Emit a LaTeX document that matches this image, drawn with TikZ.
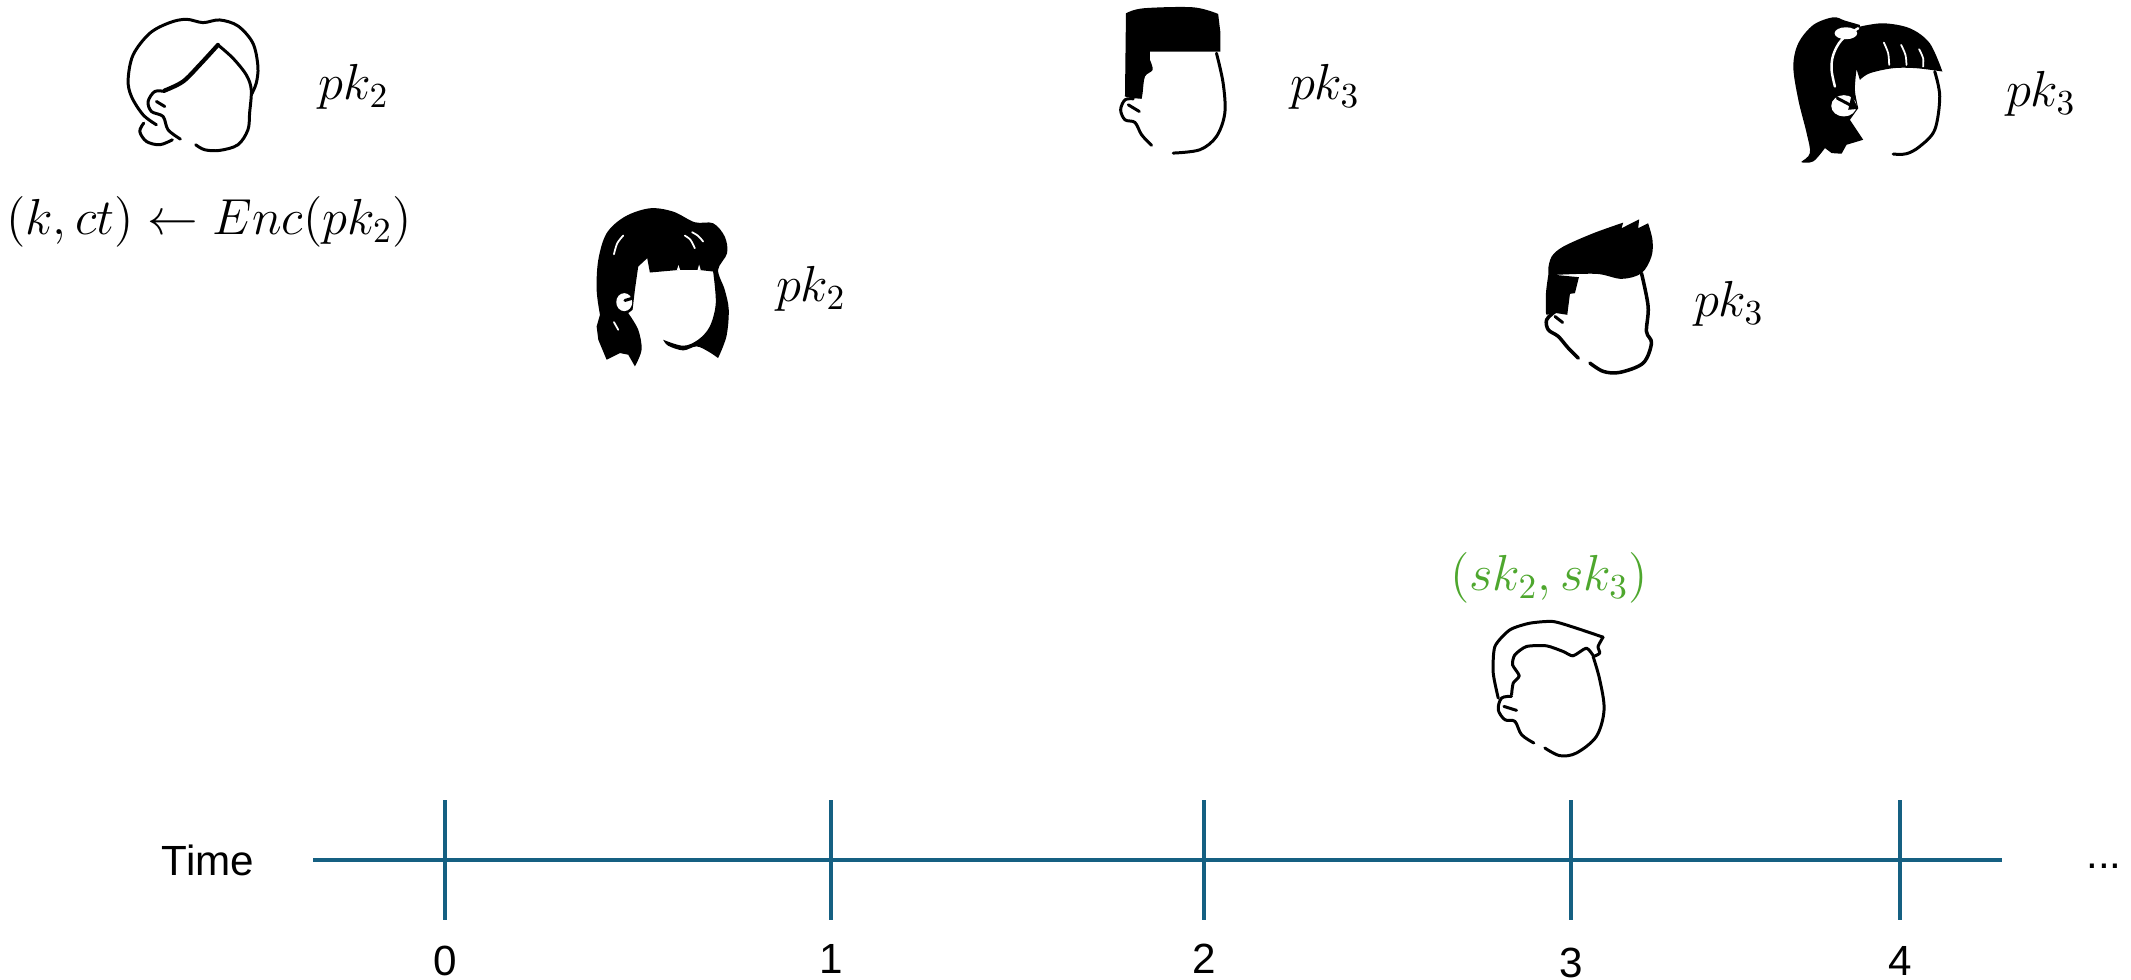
\documentclass[tikz,border=0pt]{standalone}
\usepackage{fontspec}
\setsansfont{Liberation Sans}
\definecolor{cus-teal}{RGB}{21, 96, 130}
\definecolor{cus-green}{RGB}{78, 167, 46}
\tikzset{
	head/.style={x=0.0033333cm,y=-0.0033333cm,line width=0.85pt,line cap=round,line join=round},
	wavy/.style={smooth,tension=0.55},
	glint/.style={white,line width=0.5pt},
	keylabel/.style={font=\fontsize{14}{16}\selectfont,inner sep=0pt},
	ticklabel/.style={font=\sffamily\fontsize{12}{14}\selectfont,inner sep=0pt},
	axisline/.style={cus-teal,line width=1.25pt},
	tickline/.style={cus-teal,line width=0.9pt}
}
\begin{document}
\begin{tikzpicture}[x=0.01cm,y=-0.01cm]
\useasboundingbox (0 ,0) rectangle (2131 ,980);

% plain head, short hair
\begin{scope}[shift={(0 ,0)},head]
	\draw plot [wavy] coordinates {(470,375) (430,345) (395,290) (385,240) (400,165) (450,100) (510,68) (560,58) (610,68) (660,60) (715,78) (760,130) (775,200) (770,250) (755,285)};
	\draw [line width=1.2pt] plot [wavy] coordinates {(495,272) (550,245) (600,195) (655,135)};
	\draw plot [wavy] coordinates {(655,135) (700,175) (740,225) (755,270) (750,340) (745,390) (715,435) (660,452) (615,450) (588,435)};
	\draw plot [wavy] coordinates {(495,275) (465,275) (445,305) (455,335) (490,350) (505,390) (542,418)};
	\draw (470,305) -- (495,320);
	\draw plot [wavy] coordinates {(432,370) (420,395) (440,425) (480,435) (518,420)};
\end{scope}

% black bob with bun
\begin{scope}[shift={(570 ,190)},head]
	\fill plot [wavy] coordinates {(90,375) (80,300) (85,210) (110,130) (165,80) (240,55) (310,65) (375,97) (430,100) (465,140) (472,190) (445,240) (465,300) (477,360) (470,440) (445,505)}
		-- plot [wavy] coordinates {(445,505) (415,485) (380,470) (340,482) (295,468) (280,450)}
		-- plot [wavy] coordinates {(280,450) (340,468) (385,450) (420,410) (438,340) (430,245)}
		-- (385,240) -- (330,240) -- (240,248) -- (232,205) -- (205,230) -- (195,300) -- (188,360)
		-- plot [wavy] coordinates {(175,370) (205,420) (215,480) (195,530)}
		-- (175,495) -- (150,490) -- (130,500) -- (110,510) -- (85,450) -- (80,410) -- cycle;
	\fill [white] (163,337) ellipse [x radius=24,y radius=27];
	\draw (165,332) -- (185,326);
	\draw [glint] plot [wavy] coordinates {(160,137) (142,160) (132,193)};
	\draw [glint] plot [wavy] coordinates {(345,137) (362,150) (375,175)};
	\draw [glint] plot [wavy] coordinates {(367,127) (385,138) (400,155)};
	\draw [glint] (132,397) -- (145,420);
	\fill [white] (321,241) -- (326,226) -- (331,241) -- cycle;
	\fill [white] (383,241) -- (388,224) -- (393,241) -- cycle;
\end{scope}

% black flat top
\begin{scope}[shift={(1100 ,0)},head]
	\fill plot [wavy] coordinates {(78,40) (130,25) (280,22) (355,42)}
		-- (362,100) -- (362,155) -- (150,155)
		-- plot [wavy] coordinates {(150,180) (158,210) (135,230) (128,280) (125,297)}
		-- (100,295) -- (75,290) -- cycle;
	\draw plot [wavy] coordinates {(350,160) (370,250) (375,340) (350,410) (300,450) (220,460)};
	\draw plot [wavy] coordinates {(100,297) (75,300) (62,330) (75,360) (105,368) (125,405) (155,437)};
	\draw (85,315) -- (118,335);
\end{scope}

% black ponytail with fringe
\begin{scope}[shift={(1770 ,0)},head]
	\fill plot [wavy] coordinates {(270,75) (225,62) (190,52) (130,75) (85,130) (70,200) (85,300) (110,400) (120,460) (95,485)}
		-- plot [wavy] coordinates {(95,488) (130,485) (165,445)}
		-- (185,460) -- (215,462) -- (230,435) -- (280,420) -- (240,360) -- (265,325)
		-- plot [wavy] coordinates {(265,325) (255,270) (260,208)}
		-- (270,240)
		-- plot [wavy] coordinates {(270,240) (300,220) (370,205) (440,205) (518,215)}
		-- plot [wavy] coordinates {(518,215) (480,130) (420,85) (340,70) (270,80)} -- cycle;
	\fill [white] (222,318) ellipse [x radius=38,y radius=32];
	\fill [black] (265,327) -- (245,285) -- (235,330) -- cycle;
	\draw (202,295) -- (240,315);
	\fill [white] (228,100) ellipse [x radius=34,y radius=18];
	\draw [glint,line width=0.7pt] plot [wavy] coordinates {(265,85) (215,120) (190,165) (185,210) (195,260)};
	\draw [glint] plot [wavy] coordinates {(342,128) (355,160) (358,195)};
	\draw [glint] plot [wavy] coordinates {(394,135) (407,165) (410,195)};
	\draw [glint] plot [wavy] coordinates {(448,148) (460,175) (460,200)};
	\draw plot [wavy] coordinates {(495,215) (510,290) (495,390) (450,440) (410,462) (370,463)};
\end{scope}

% black quiff
\begin{scope}[shift={(1520 ,200)},head]
	\fill plot [wavy] coordinates {(85,205) (95,170) (130,140) (220,100) (310,68)}
		-- (305,85) -- (358,58) -- (355,85) -- (385,70)
		-- plot [wavy] coordinates {(385,70) (398,120) (395,170) (365,220) (305,237) (230,222) (105,225)}
		-- (177,232) -- (165,280) -- (150,282) -- (142,345) -- (110,340) -- (80,345)
		-- plot [wavy] coordinates {(78,340) (78,280) (85,225)} -- cycle;
	\draw [line width=1pt] plot [wavy] coordinates {(365,220) (385,320) (380,395) (395,430) (370,490) (300,518) (250,515) (210,490)};
	\draw [line width=1pt] plot [wavy] coordinates {(105,335) (80,360) (85,390) (115,410) (145,445) (175,475)};
	\draw (105,350) -- (128,368);
\end{scope}

% plain head under the secret keys
\begin{scope}[shift={(1430 ,540)},head]
	\draw plot [smooth,tension=0.4] coordinates {(205,475) (190,400) (195,320) (240,270) (300,250) (370,245) (440,265) (520,292)};
	\draw plot [smooth,tension=0.4] coordinates {(520,292) (505,320) (510,340) (492,350)};
	\draw plot [smooth,tension=0.4] coordinates {(492,350) (470,325) (430,348) (400,335) (350,318) (290,320) (255,345) (248,375) (268,408) (250,430) (245,465)};
	\draw plot [wavy] coordinates {(490,350) (510,420) (523,510) (500,590) (440,640) (390,648) (345,625)};
	\draw plot [wavy] coordinates {(245,470) (215,475) (205,510) (225,540) (255,545) (275,585) (312,610)};
	\draw (222,500) -- (260,512);
\end{scope}

\node [keylabel] (pktwoa) at (354 ,87) {$pk_2$};
\node [keylabel] (enc) at (209 ,222) {$(k,ct)\leftarrow Enc(pk_2)$};
\node [keylabel] (pktwob) at (811 ,289) {$pk_2$};
\node [keylabel] (pkthreea) at (1325 ,87) {$pk_3$};
\node [keylabel] (pkthreeb) at (2041 ,94) {$pk_3$};
\node [keylabel] (pkthreec) at (1729 ,304) {$pk_3$};
\node [keylabel,text=cus-green] (secret) at (1549 ,578) {$(sk_2,sk_3)$};

\coordinate (axisstart) at (313 ,860);
\coordinate (axisend) at (2002 ,860);
\draw [axisline] (axisstart) -- (axisend);
\foreach \x/\n/\ly in {445/0/961,831/1/959,1204/2/959,1571/3/963,1900/4/961}{
	\coordinate (top\n) at (\x ,800);
	\coordinate (bot\n) at (\x ,920);
	\draw [tickline] (top\n) -- (bot\n);
	\node [ticklabel] (num\n) at (\x ,\ly) {\n};
}
\node [ticklabel] (timelabel) at (208 ,860) {Time};
\node [ticklabel] (dots) at (2104 ,866) {...};
\end{tikzpicture}
\end{document}
